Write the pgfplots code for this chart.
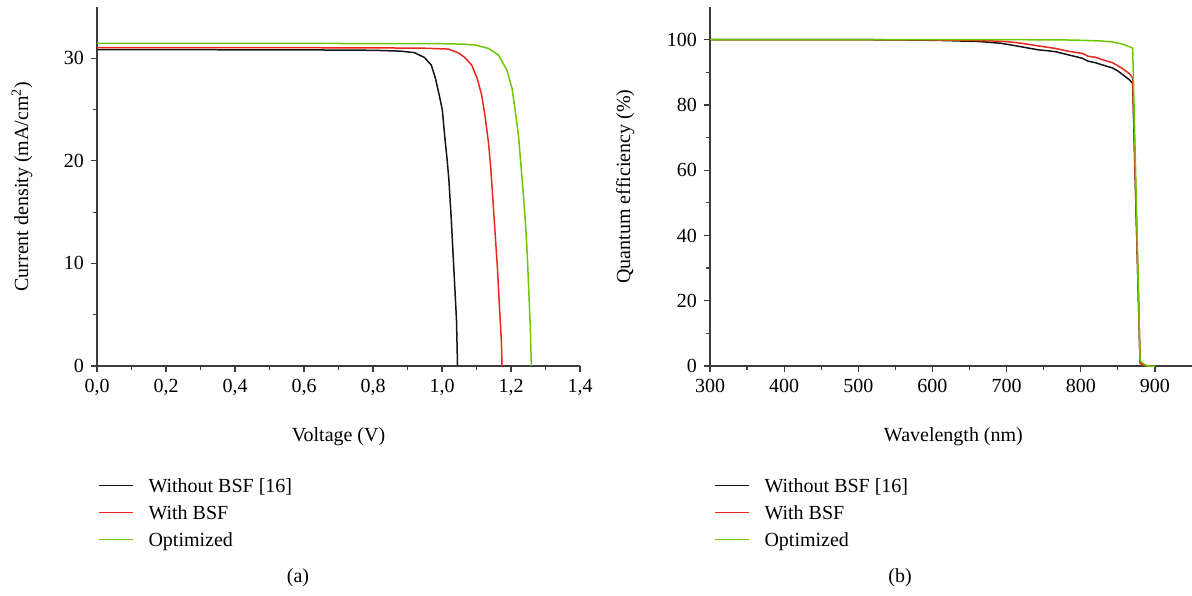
\documentclass[border=0pt]{standalone}
\usepackage{fontspec}
\setmainfont{Liberation Serif}
\usepackage{pgfplots}
\pgfplotsset{compat=1.18}

\definecolor{cblack}{RGB}{20,20,20}
\definecolor{cred}{RGB}{232,40,30}
\definecolor{cgreen}{RGB}{108,198,0}
\definecolor{axgray}{RGB}{60,60,60}

\pgfplotsset{
  panel/.style={
    scale only axis, width=241.5pt, height=179.5pt,
    axis x line*=bottom, axis y line*=left,
    axis line style={axgray, line width=0.6pt, -},
    every tick/.style={axgray, line width=0.6pt},
    tick align=outside,
    major tick length=3pt, minor tick length=1.8pt,
    minor tick num=1,
    tick label style={font=\fontsize{10}{12}\selectfont},
    label style={font=\fontsize{10}{12}\selectfont},
    /pgf/number format/assume math mode=true,
    legend cell align=left,
    legend image code/.code={\draw[##1] (0pt,0.8pt) -- (17pt,0.8pt);},
    legend style={draw=none, fill=none, at={(axis description cs:0,0)},
      anchor=north west, inner sep=0pt, outer sep=0pt,
      font=\fontsize{10}{12}\selectfont, row sep=4.5pt,
      nodes={inner sep=0pt, text height=7pt, text depth=2pt},
      /tikz/every odd column/.append style={column sep=7.5pt}},
  },
  curve/.style={line width=0.75pt, #1},
}

\begin{document}
\begin{tikzpicture}
\useasboundingbox (0,0) rectangle (596pt,297.5pt);

% (a) J-V
\begin{axis}[panel, at={(48.5pt,114.5pt)}, anchor=south west,
  xmin=0, xmax=1.4, ymin=0, ymax=35,
  xtick distance=0.2, ytick={0,10,20,30},
  xticklabel style={/pgf/number format/.cd, fixed, fixed zerofill, precision=1, use comma},
  xlabel={Voltage (V)}, ylabel={Current density (mA/cm\textsuperscript{2})},
  xlabel style={at={(axis description cs:0.5,-0.198)}, anchor=center},
  ylabel style={at={(axis description cs:-0.155,0.5)}, anchor=center},
  legend style={xshift=0.5pt, yshift=-56pt},
]
\addplot[curve=cblack] coordinates {
(0,30.85) (0.2,30.84) (0.4,30.83) (0.6,30.82) (0.8,30.78) (0.88,30.7)
(0.92,30.55) (0.949,30.08) (0.969,29.34) (0.981,28.04) (0.993,26.25)
(1.001,24.95) (1.008,22.35) (1.015,20.08) (1.020,18.13) (1.027,14.23)
(1.032,10.98) (1.037,7.73) (1.042,4.48) (1.045,0)};
\addlegendentry{Without BSF [16]}
\addplot[curve=cred] coordinates {
(0,31.05) (0.4,31.04) (0.8,31.02) (0.95,30.98) (1.018,30.9) (1.047,30.54)
(1.066,30.08) (1.086,29.34) (1.102,28.04) (1.115,26.41) (1.125,24.3)
(1.135,21.7) (1.141,19.43) (1.147,16.5) (1.154,12.93) (1.161,9.36)
(1.167,5.46) (1.172,2.53) (1.174,0)};
\addlegendentry{With BSF}
\addplot[curve=cgreen] coordinates {
(0,31.45) (0.6,31.45) (1.0,31.42) (1.06,31.38) (1.096,31.29) (1.135,30.96)
(1.164,30.31) (1.188,28.85) (1.203,27.06) (1.212,24.95) (1.222,22.35)
(1.230,19.1) (1.237,16.18) (1.242,13.9) (1.247,10.98) (1.251,7.73)
(1.256,3.83) (1.259,0)};
\addlegendentry{Optimized}
\end{axis}

% (b) QE
\begin{axis}[panel, at={(355pt,114.5pt)}, anchor=south west,
  width=241pt,
  xmin=300, xmax=950, ymin=0, ymax=110,
  xtick={300,400,...,900}, ytick={0,20,...,100},
  xlabel={Wavelength (nm)}, ylabel={Quantum efficiency (\%)},
  xlabel style={at={(axis description cs:0.505,-0.198)}, anchor=center},
  ylabel style={at={(axis description cs:-0.176,0.5)}, anchor=center},
  legend style={xshift=2pt, yshift=-56pt},
]
\addplot[curve=cblack] coordinates {
(300,100) (400,100) (500,100) (560,99.9) (600,99.8) (620,99.7) (650,99.5)
(665,99.4) (680,99.1) (692,98.9) (705,98.4) (720,97.8) (742,96.9) (755,96.6)
(766,96.3) (784,95.3) (795,94.7) (802,94.3) (810,93.4) (820,92.9) (830,92.2)
(843,91.3) (850,90.4) (857,89.2) (866,87.6) (870,86.6) (880,1.2) (885,0.4)
(890,0) (900,0)};
\addlegendentry{Without BSF [16]}
\addplot[curve=cred] coordinates {
(300,100) (500,100) (600,99.9) (650,99.8) (680,99.6) (700,99.4) (720,98.9)
(742,98.1) (766,97.3) (784,96.4) (802,95.8) (810,94.9) (820,94.6) (830,93.8)
(843,92.9) (850,92.0) (857,91.0) (866,89.5) (870,88.3) (880,0.8) (885,0.2)
(890,0) (900,0)};
\addlegendentry{With BSF}
\addplot[curve=cgreen] coordinates {
(300,100) (500,100) (700,100) (780,99.9) (800,99.8) (826,99.6) (843,99.3)
(857,98.6) (870,97.4) (880,1.6) (885,0.6) (890,0) (900,0)};
\addlegendentry{Optimized}
\end{axis}

\node[font=\fontsize{10}{12}\selectfont] at (149pt,8.5pt) {(a)};
\node[font=\fontsize{10}{12}\selectfont] at (450pt,8.5pt) {(b)};
\end{tikzpicture}
\end{document}
